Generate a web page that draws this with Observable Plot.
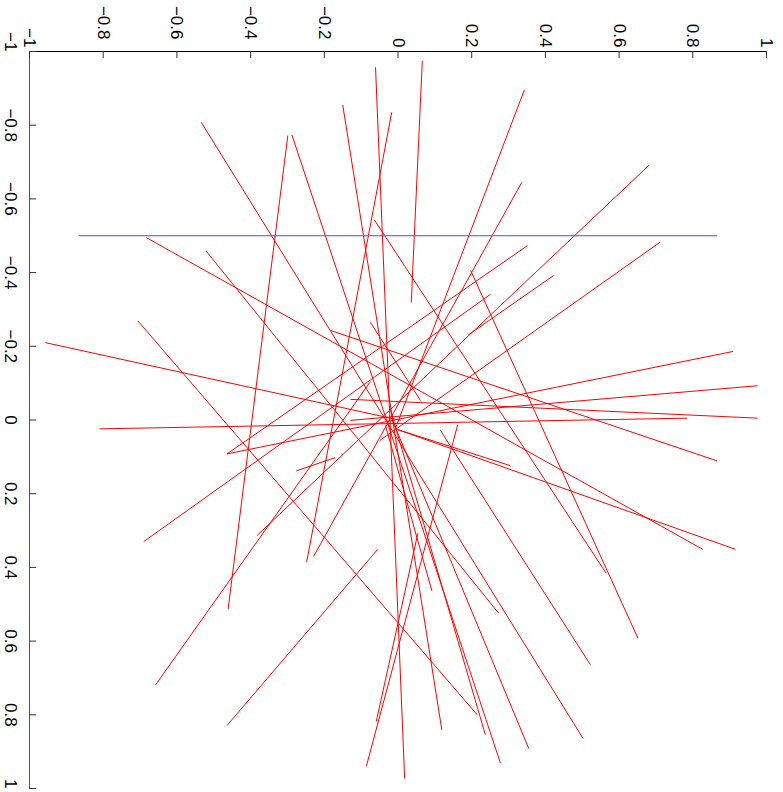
<!DOCTYPE html>
<html>
<head>
<meta charset="utf-8">
<script src="https://cdn.jsdelivr.net/npm/d3@7"></script>
<script src="https://cdn.jsdelivr.net/npm/@observablehq/plot@0.6"></script>
<style>
  html, body { margin: 0; padding: 0; background: #ffffff; }
  #chart svg { display: block; }
</style>
</head>
<body>
<div id="chart"></div>
<script>
// Tick values for both axes
const xTicks = [-1, -0.8, -0.6, -0.4, -0.2, 0, 0.2, 0.4, 0.6, 0.8, 1];
const yTicks = [-1, -0.8, -0.6, -0.4, -0.2, 0, 0.2, 0.4, 0.6, 0.8, 1];

// Red segments: start and end points (data units)
const segX1 = [-0.061, 0.066, 0.343, -0.150, -0.017, -0.534, -0.299, -0.288, 0.681, 0.336, -0.064, -0.683, -0.521, 0.712, 0.351, 0.422, 0.251, -0.706, -0.957, 0.909, 0.976, 0.976, -0.810, -0.183, -0.056, -0.276, -0.086, -0.059, 0.092, 0.237, 0.355, 0.115, 0.197, -0.001, -0.001, -0.075, -0.658];
const segY1 = [-0.957, -0.975, -0.896, -0.855, -0.835, -0.808, -0.772, -0.774, -0.691, -0.645, -0.543, -0.495, -0.459, -0.483, -0.473, -0.392, -0.341, -0.269, -0.210, -0.186, -0.093, -0.005, 0.024, -0.243, 0.352, 0.138, 0.940, 0.818, 0.464, 0.854, 0.892, 0.028, -0.406, 0.026, 0.026, -0.265, 0.719];
const segX2 = [0.018, 0.036, -0.007, 0.119, -0.248, 0.502, -0.461, 0.278, -0.382, -0.229, 0.565, 0.827, 0.273, -0.050, -0.464, 0.191, -0.690, 0.215, 0.007, -0.464, -0.129, -0.129, 0.785, 0.866, -0.464, -0.170, 0.162, 0.054, -0.034, -0.020, -0.015, 0.522, 0.651, 0.916, 0.305, 0.061, -0.075];
const segY2 = [0.973, -0.319, 0.023, 0.841, 0.386, 0.864, 0.513, 0.931, 0.313, 0.370, 0.416, 0.351, 0.524, 0.056, 0.092, -0.231, 0.330, 0.800, 0.001, 0.092, 0.001, -0.056, -0.005, 0.111, 0.829, 0.102, 0.013, 0.307, 0.015, -0.026, 0.001, 0.664, 0.592, 0.351, 0.124, -0.053, -0.104];

// Blue reference chord
const refX1 = [-0.866];
const refY1 = [-0.5];
const refX2 = [0.866];
const refY2 = [-0.5];

const segments = segX1.map((d, i) => ({x1: d, y1: segY1[i], x2: segX2[i], y2: segY2[i]}));
const reference = refX1.map((d, i) => ({x1: d, y1: refY1[i], x2: refX2[i], y2: refY2[i]}));

const fmt = d3.format("~g");
const xTicksNeg = xTicks.filter(d => d < 0 && d > -1);
const xTicksRest = xTicks.filter(d => !(d < 0 && d > -1));
const yTicksInner = yTicks.filter(d => d > -1 && d < 1);
const yEnds = yTicks.filter(d => d === -1 || d === 1);

const chart = Plot.plot({
  width: 783,
  height: 792,
  marginLeft: 29,
  marginRight: 17,
  marginTop: 51,
  marginBottom: 4,
  x: {domain: [-1, 1]},
  y: {domain: [-1, 1], reverse: true},
  style: {
    fontFamily: "'Liberation Sans', Arial, Helvetica, sans-serif",
    fontSize: "17px",
    color: "black",
    background: "white",
    overflow: "visible"
  },
  marks: [
    Plot.link(segments, {x1: "x1", y1: "y1", x2: "x2", y2: "y2", stroke: "red", strokeWidth: 1}),
    Plot.link(reference, {x1: "x1", y1: "y1", x2: "x2", y2: "y2", stroke: "#4a4aff", strokeWidth: 1}),
    Plot.ruleY([-1], {stroke: "black"}),
    Plot.ruleX([-1], {stroke: "#555"}),
    // inward tick marks
    Plot.ruleX(xTicks, {x: d => d, y1: -1, y2: -1, insetBottom: -7, stroke: "#333"}),
    Plot.ruleY(yTicks, {y: d => d, x1: -1, x2: -1, insetRight: -7, stroke: "#333"}),
    // top labels
    Plot.axisX(xTicksRest, {anchor: "top", tickSize: 0, tickPadding: 4, tickRotate: 90, tickFormat: fmt, fill: "black"}),
    Plot.axisX(xTicksNeg, {anchor: "top", tickSize: 0, tickPadding: 12, tickRotate: 90, tickFormat: fmt, fill: "black"}),
    // left labels
    Plot.axisY(yTicksInner, {anchor: "left", tickSize: 0, tickPadding: 12, tickRotate: 90, tickFormat: fmt, fill: "black"}),
    Plot.axisY(yEnds, {anchor: "left", tickSize: 0, tickPadding: 12, tickRotate: 90, tickFormat: fmt, fill: "black", textAnchor: "end"})
  ]
});

document.getElementById("chart").appendChild(chart);
</script>
</body>
</html>
